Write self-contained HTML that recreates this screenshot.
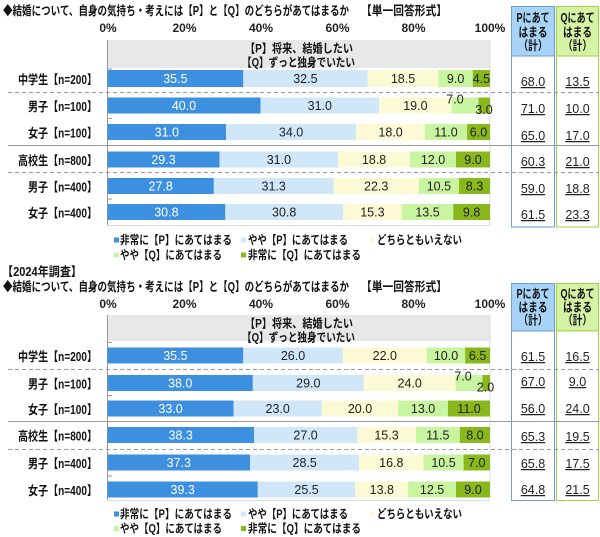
<!DOCTYPE html>
<html><head><meta charset="utf-8"><style>
body{margin:0;background:#fff}
svg{display:block;font-family:"Liberation Sans","Noto Sans CJK JP",sans-serif}
.b{font-weight:bold}
.n{font-size:12.5px;fill:#222}
.w{font-size:12.5px;fill:#fff}
.lab{font-size:12.5px;font-weight:bold;fill:#111}
.ax{font-size:12px;font-weight:bold;fill:#222}
.leg{font-size:12px;font-weight:bold;fill:#111}
.col{font-size:12.5px;fill:#222;text-decoration:underline}
.hd{font-size:12.5px;font-weight:bold;fill:#111}
</style></head><body>
<svg width="600" height="537" viewBox="0 0 600 537" xmlns="http://www.w3.org/2000/svg">
<!-- ===== CHART 1 ===== -->
<text x="3" y="15" class="b" font-size="12.5" fill="#111" textLength="346" lengthAdjust="spacingAndGlyphs">◆結婚について、自身の気持ち・考えには【P】と【Q】のどちらがあてはまるか</text>
<text x="361" y="15" class="b" font-size="12.5" fill="#111" textLength="86" lengthAdjust="spacingAndGlyphs">【単一回答形式】</text>
<g class="ax" text-anchor="middle">
<text x="108" y="32">0%</text><text x="184.5" y="32">20%</text><text x="261" y="32">40%</text><text x="337.5" y="32">60%</text><text x="413.5" y="32">80%</text><text x="490" y="32">100%</text>
</g>
<rect x="511.5" y="6.5" width="43" height="220.5" fill="#fff" stroke="#6a9fd0" stroke-width="1"/>
<rect x="511.5" y="6.5" width="43" height="49.5" fill="#a7d3f7" stroke="#6a9fd0" stroke-width="1"/>
<rect x="556.5" y="6.5" width="42" height="220.5" fill="#fff" stroke="#9fcf45" stroke-width="1"/>
<rect x="556.5" y="6.5" width="42" height="49.5" fill="#d5f2a5" stroke="#9fcf45" stroke-width="1"/>
<g class="hd" text-anchor="middle">
<text x="533" y="22" textLength="33" lengthAdjust="spacingAndGlyphs">Pにあて</text>
<text x="533" y="36.5" textLength="29" lengthAdjust="spacingAndGlyphs">はまる</text>
<text x="533" y="50" textLength="29" lengthAdjust="spacingAndGlyphs">（計）</text>
<text x="577.5" y="22" textLength="34" lengthAdjust="spacingAndGlyphs">Qにあて</text>
<text x="577.5" y="36.5" textLength="29" lengthAdjust="spacingAndGlyphs">はまる</text>
<text x="577.5" y="50" textLength="29" lengthAdjust="spacingAndGlyphs">（計）</text>
</g>
<rect x="107.5" y="40" width="382.5" height="28" fill="#e8e8e8"/>
<text x="245" y="52.5" class="b" font-size="12" fill="#111" textLength="108" lengthAdjust="spacingAndGlyphs">【P】将来、結婚したい</text>
<text x="242" y="66.5" class="b" font-size="12" fill="#111" textLength="113" lengthAdjust="spacingAndGlyphs">【Q】ずっと独身でいたい</text>
<line x1="107.5" y1="40" x2="107.5" y2="225" stroke="#999"/>
<line x1="490" y1="40" x2="490" y2="225" stroke="#ddd"/>
<line x1="107.5" y1="225.5" x2="490" y2="225.5" stroke="#ddd"/>
<g stroke="#999"><line x1="107.5" y1="69" x2="112" y2="69"/><line x1="107.5" y1="118.5" x2="112" y2="118.5"/><line x1="107.5" y1="199" x2="112" y2="199"/></g>
<line x1="8" y1="92.5" x2="599" y2="92.5" stroke="#999" stroke-dasharray="4,3"/>
<line x1="8" y1="145.5" x2="599" y2="145.5" stroke="#999"/>
<line x1="8" y1="172.5" x2="599" y2="172.5" stroke="#999" stroke-dasharray="4,3"/>
<g class="lab" text-anchor="end">
<text x="97" y="84" textLength="79" lengthAdjust="spacingAndGlyphs">中学生【n=200】</text>
<text x="97" y="111" textLength="69" lengthAdjust="spacingAndGlyphs">男子【n=100】</text>
<text x="97" y="137.5" textLength="69" lengthAdjust="spacingAndGlyphs">女子【n=100】</text>
<text x="97" y="165" textLength="79" lengthAdjust="spacingAndGlyphs">高校生【n=800】</text>
<text x="97" y="191.5" textLength="69" lengthAdjust="spacingAndGlyphs">男子【n=400】</text>
<text x="97" y="217.5" textLength="69" lengthAdjust="spacingAndGlyphs">女子【n=400】</text>
</g>
<g>
<rect x="107.5" y="70" width="135.79" height="17" fill="#3d8fe0"/><rect x="243.29" y="70" width="124.31" height="17" fill="#d0e7f9"/><rect x="367.6" y="70" width="70.76" height="17" fill="#fcfad4"/><rect x="438.36" y="70" width="34.43" height="17" fill="#c9f4a0"/><rect x="472.79" y="70" width="17.21" height="17" fill="#88b81c"/>
<rect x="107.5" y="97.5" width="153" height="16" fill="#3d8fe0"/><rect x="260.5" y="97.5" width="118.58" height="16" fill="#d0e7f9"/><rect x="379.08" y="97.5" width="72.67" height="16" fill="#fcfad4"/><rect x="451.75" y="97.5" width="26.78" height="16" fill="#c9f4a0"/><rect x="478.53" y="97.5" width="11.47" height="16" fill="#88b81c"/>
<rect x="107.5" y="124" width="118.58" height="16" fill="#3d8fe0"/><rect x="226.08" y="124" width="130.05" height="16" fill="#d0e7f9"/><rect x="356.13" y="124" width="68.85" height="16" fill="#fcfad4"/><rect x="424.98" y="124" width="42.07" height="16" fill="#c9f4a0"/><rect x="467.05" y="124" width="22.95" height="16" fill="#88b81c"/>
<rect x="107.5" y="151.5" width="112.07" height="16" fill="#3d8fe0"/><rect x="219.57" y="151.5" width="118.58" height="16" fill="#d0e7f9"/><rect x="338.15" y="151.5" width="71.91" height="16" fill="#fcfad4"/><rect x="410.06" y="151.5" width="45.9" height="16" fill="#c9f4a0"/><rect x="455.96" y="151.5" width="34.04" height="16" fill="#88b81c"/>
<rect x="107.5" y="178" width="106.34" height="16" fill="#3d8fe0"/><rect x="213.84" y="178" width="119.72" height="16" fill="#d0e7f9"/><rect x="333.56" y="178" width="85.3" height="16" fill="#fcfad4"/><rect x="418.86" y="178" width="40.16" height="16" fill="#c9f4a0"/><rect x="459.02" y="178" width="30.98" height="16" fill="#88b81c"/>
<rect x="107.5" y="204" width="117.81" height="16" fill="#3d8fe0"/><rect x="225.31" y="204" width="117.81" height="16" fill="#d0e7f9"/><rect x="343.12" y="204" width="58.52" height="16" fill="#fcfad4"/><rect x="401.64" y="204" width="51.64" height="16" fill="#c9f4a0"/><rect x="453.28" y="204" width="36.72" height="16" fill="#88b81c"/>
</g>
<g text-anchor="middle">
<text class="w" x="175.4" y="83">35.5</text><text class="n" x="305.4" y="83">32.5</text><text class="n" x="403" y="83">18.5</text><text class="n" x="455.6" y="83">9.0</text><text class="n" x="481.4" y="83">4.5</text>
<text class="w" x="184" y="110">40.0</text><text class="n" x="319.8" y="110">31.0</text><text class="n" x="415.4" y="110">19.0</text><text class="n" x="455" y="103.5">7.0</text><text class="n" x="484" y="114">3.0</text>
<text class="w" x="166.8" y="136.5">31.0</text><text class="n" x="291.1" y="136.5">34.0</text><text class="n" x="390.6" y="136.5">18.0</text><text class="n" x="446" y="136.5">11.0</text><text class="n" x="478.5" y="136.5">6.0</text>
<text class="w" x="163.5" y="164">29.3</text><text class="n" x="278.9" y="164">31.0</text><text class="n" x="374.1" y="164">18.8</text><text class="n" x="433" y="164">12.0</text><text class="n" x="473" y="164">9.0</text>
<text class="w" x="160.7" y="190.5">27.8</text><text class="n" x="273.7" y="190.5">31.3</text><text class="n" x="376.2" y="190.5">22.3</text><text class="n" x="438.9" y="190.5">10.5</text><text class="n" x="474.5" y="190.5">8.3</text>
<text class="w" x="166.4" y="216.5">30.8</text><text class="n" x="284.2" y="216.5">30.8</text><text class="n" x="372.4" y="216.5">15.3</text><text class="n" x="427.5" y="216.5">13.5</text><text class="n" x="471.6" y="216.5">9.8</text>
</g>
<g class="col" text-anchor="middle">
<text x="533" y="86">68.0</text><text x="577.5" y="86">13.5</text>
<text x="533" y="113">71.0</text><text x="577.5" y="113">10.0</text>
<text x="533" y="140">65.0</text><text x="577.5" y="140">17.0</text>
<text x="533" y="166">60.3</text><text x="577.5" y="166">21.0</text>
<text x="533" y="193">59.0</text><text x="577.5" y="193">18.8</text>
<text x="533" y="219">61.5</text><text x="577.5" y="219">23.3</text>
</g>
<rect x="114" y="237.5" width="5" height="5" fill="#3d8fe0"/><text class="leg" x="120" y="244" textLength="112" lengthAdjust="spacingAndGlyphs">非常に【P】にあてはまる</text>
<rect x="241" y="237.5" width="5" height="5" fill="#d0e7f9"/><text class="leg" x="248" y="244" textLength="100" lengthAdjust="spacingAndGlyphs">やや【P】にあてはまる</text>
<rect x="369" y="237.5" width="5" height="5" fill="#fcfad4"/><text class="leg" x="377" y="244" textLength="85" lengthAdjust="spacingAndGlyphs">どちらともいえない</text>
<rect x="114" y="252.5" width="5" height="5" fill="#c9f4a0"/><text class="leg" x="120" y="259" textLength="102" lengthAdjust="spacingAndGlyphs">やや【Q】にあてはまる</text>
<rect x="241" y="252.5" width="5" height="5" fill="#88b81c"/><text class="leg" x="248" y="259" textLength="113" lengthAdjust="spacingAndGlyphs">非常に【Q】にあてはまる</text>

<!-- ===== CHART 2 ===== -->
<text x="2" y="276" class="b" font-size="12.5" fill="#111" textLength="80" lengthAdjust="spacingAndGlyphs">【2024年調査】</text>
<text x="3" y="291" class="b" font-size="12.5" fill="#111" textLength="346" lengthAdjust="spacingAndGlyphs">◆結婚について、自身の気持ち・考えには【P】と【Q】のどちらがあてはまるか</text>
<text x="361" y="291" class="b" font-size="12.5" fill="#111" textLength="86" lengthAdjust="spacingAndGlyphs">【単一回答形式】</text>
<g class="ax" text-anchor="middle">
<text x="108" y="308">0%</text><text x="184.5" y="308">20%</text><text x="261" y="308">40%</text><text x="337.5" y="308">60%</text><text x="413.5" y="308">80%</text><text x="490" y="308">100%</text>
</g>
<rect x="511.5" y="283.5" width="43" height="217" fill="#fff" stroke="#6a9fd0" stroke-width="1"/>
<rect x="511.5" y="283.5" width="43" height="47.5" fill="#a7d3f7" stroke="#6a9fd0" stroke-width="1"/>
<rect x="556.5" y="283.5" width="42" height="217" fill="#fff" stroke="#9fcf45" stroke-width="1"/>
<rect x="556.5" y="283.5" width="42" height="47.5" fill="#d5f2a5" stroke="#9fcf45" stroke-width="1"/>
<g class="hd" text-anchor="middle">
<text x="533" y="298" textLength="33" lengthAdjust="spacingAndGlyphs">Pにあて</text>
<text x="533" y="311.5" textLength="29" lengthAdjust="spacingAndGlyphs">はまる</text>
<text x="533" y="324.5" textLength="29" lengthAdjust="spacingAndGlyphs">（計）</text>
<text x="577.5" y="298" textLength="34" lengthAdjust="spacingAndGlyphs">Qにあて</text>
<text x="577.5" y="311.5" textLength="29" lengthAdjust="spacingAndGlyphs">はまる</text>
<text x="577.5" y="324.5" textLength="29" lengthAdjust="spacingAndGlyphs">（計）</text>
</g>
<rect x="107.5" y="315" width="382.5" height="26" fill="#e8e8e8"/>
<text x="245" y="327.5" class="b" font-size="12" fill="#111" textLength="108" lengthAdjust="spacingAndGlyphs">【P】将来、結婚したい</text>
<text x="242" y="341.5" class="b" font-size="12" fill="#111" textLength="113" lengthAdjust="spacingAndGlyphs">【Q】ずっと独身でいたい</text>
<line x1="107.5" y1="315" x2="107.5" y2="500" stroke="#999"/>
<line x1="490" y1="315" x2="490" y2="500" stroke="#ddd"/>
<line x1="107.5" y1="500.5" x2="490" y2="500.5" stroke="#ddd"/>
<g stroke="#999"><line x1="107.5" y1="342.5" x2="112" y2="342.5"/><line x1="107.5" y1="395.5" x2="112" y2="395.5"/><line x1="107.5" y1="476" x2="112" y2="476"/></g>
<line x1="8" y1="369.5" x2="599" y2="369.5" stroke="#999" stroke-dasharray="4,3"/>
<line x1="8" y1="421.5" x2="599" y2="421.5" stroke="#999"/>
<line x1="8" y1="449.5" x2="599" y2="449.5" stroke="#999" stroke-dasharray="4,3"/>
<g class="lab" text-anchor="end">
<text x="97" y="361" textLength="79" lengthAdjust="spacingAndGlyphs">中学生【n=200】</text>
<text x="97" y="388.5" textLength="69" lengthAdjust="spacingAndGlyphs">男子【n=100】</text>
<text x="97" y="414" textLength="69" lengthAdjust="spacingAndGlyphs">女子【n=100】</text>
<text x="97" y="440.5" textLength="79" lengthAdjust="spacingAndGlyphs">高校生【n=800】</text>
<text x="97" y="468" textLength="69" lengthAdjust="spacingAndGlyphs">男子【n=400】</text>
<text x="97" y="495" textLength="69" lengthAdjust="spacingAndGlyphs">女子【n=400】</text>
</g>
<g>
<rect x="107.5" y="347.5" width="135.79" height="16" fill="#3d8fe0"/><rect x="243.29" y="347.5" width="99.45" height="16" fill="#d0e7f9"/><rect x="342.74" y="347.5" width="84.15" height="16" fill="#fcfad4"/><rect x="426.89" y="347.5" width="38.25" height="16" fill="#c9f4a0"/><rect x="465.14" y="347.5" width="24.86" height="16" fill="#88b81c"/>
<rect x="107.5" y="375" width="145.35" height="16" fill="#3d8fe0"/><rect x="252.85" y="375" width="110.93" height="16" fill="#d0e7f9"/><rect x="363.78" y="375" width="91.8" height="16" fill="#fcfad4"/><rect x="455.58" y="375" width="26.77" height="16" fill="#c9f4a0"/><rect x="482.35" y="375" width="7.65" height="16" fill="#88b81c"/>
<rect x="107.5" y="400.5" width="126.23" height="16" fill="#3d8fe0"/><rect x="233.73" y="400.5" width="87.97" height="16" fill="#d0e7f9"/><rect x="321.7" y="400.5" width="76.5" height="16" fill="#fcfad4"/><rect x="398.2" y="400.5" width="49.73" height="16" fill="#c9f4a0"/><rect x="447.93" y="400.5" width="42.07" height="16" fill="#88b81c"/>
<rect x="107.5" y="427" width="146.5" height="16" fill="#3d8fe0"/><rect x="254" y="427" width="103.27" height="16" fill="#d0e7f9"/><rect x="357.27" y="427" width="58.53" height="16" fill="#fcfad4"/><rect x="415.8" y="427" width="43.98" height="16" fill="#c9f4a0"/><rect x="459.78" y="427" width="30.22" height="16" fill="#88b81c"/>
<rect x="107.5" y="454.5" width="142.67" height="16" fill="#3d8fe0"/><rect x="250.17" y="454.5" width="109.01" height="16" fill="#d0e7f9"/><rect x="359.18" y="454.5" width="64.26" height="16" fill="#fcfad4"/><rect x="423.44" y="454.5" width="40.16" height="16" fill="#c9f4a0"/><rect x="463.6" y="454.5" width="26.4" height="16" fill="#88b81c"/>
<rect x="107.5" y="481.5" width="150.32" height="16" fill="#3d8fe0"/><rect x="257.82" y="481.5" width="97.54" height="16" fill="#d0e7f9"/><rect x="355.36" y="481.5" width="52.79" height="16" fill="#fcfad4"/><rect x="408.15" y="481.5" width="47.81" height="16" fill="#c9f4a0"/><rect x="455.96" y="481.5" width="34.04" height="16" fill="#88b81c"/>
</g>
<g text-anchor="middle">
<text class="w" x="175.4" y="360">35.5</text><text class="n" x="293" y="360">26.0</text><text class="n" x="384.8" y="360">22.0</text><text class="n" x="446" y="360">10.0</text><text class="n" x="477.6" y="360">6.5</text>
<text class="w" x="180.2" y="387.5">38.0</text><text class="n" x="308.3" y="387.5">29.0</text><text class="n" x="409.7" y="387.5">24.0</text><text class="n" x="463" y="380.5">7.0</text><text class="n" x="485.5" y="391.5">2.0</text>
<text class="w" x="170.6" y="413">33.0</text><text class="n" x="277.7" y="413">23.0</text><text class="n" x="360" y="413">20.0</text><text class="n" x="423.1" y="413">13.0</text><text class="n" x="469" y="413">11.0</text>
<text class="w" x="180.7" y="439.5">38.3</text><text class="n" x="305.6" y="439.5">27.0</text><text class="n" x="386.5" y="439.5">15.3</text><text class="n" x="437.8" y="439.5">11.5</text><text class="n" x="474.9" y="439.5">8.0</text>
<text class="w" x="178.8" y="467">37.3</text><text class="n" x="304.7" y="467">28.5</text><text class="n" x="391.3" y="467">16.8</text><text class="n" x="443.5" y="467">10.5</text><text class="n" x="476.8" y="467">7.0</text>
<text class="w" x="182.7" y="494">39.3</text><text class="n" x="306.6" y="494">25.5</text><text class="n" x="381.8" y="494">13.8</text><text class="n" x="432.1" y="494">12.5</text><text class="n" x="473" y="494">9.0</text>
</g>
<g class="col" text-anchor="middle">
<text x="533" y="361">61.5</text><text x="577.5" y="361">16.5</text>
<text x="533" y="386">67.0</text><text x="577.5" y="386">9.0</text>
<text x="533" y="413">56.0</text><text x="577.5" y="413">24.0</text>
<text x="533" y="441">65.3</text><text x="577.5" y="441">19.5</text>
<text x="533" y="468">65.8</text><text x="577.5" y="468">17.5</text>
<text x="533" y="494">64.8</text><text x="577.5" y="494">21.5</text>
</g>
<rect x="114" y="511.5" width="5" height="5" fill="#3d8fe0"/><text class="leg" x="120" y="518" textLength="112" lengthAdjust="spacingAndGlyphs">非常に【P】にあてはまる</text>
<rect x="241" y="511.5" width="5" height="5" fill="#d0e7f9"/><text class="leg" x="248" y="518" textLength="100" lengthAdjust="spacingAndGlyphs">やや【P】にあてはまる</text>
<rect x="369" y="511.5" width="5" height="5" fill="#fcfad4"/><text class="leg" x="377" y="518" textLength="85" lengthAdjust="spacingAndGlyphs">どちらともいえない</text>
<rect x="114" y="526" width="5" height="5" fill="#c9f4a0"/><text class="leg" x="120" y="532.5" textLength="102" lengthAdjust="spacingAndGlyphs">やや【Q】にあてはまる</text>
<rect x="241" y="526" width="5" height="5" fill="#88b81c"/><text class="leg" x="248" y="532.5" textLength="113" lengthAdjust="spacingAndGlyphs">非常に【Q】にあてはまる</text>
</svg>
</body></html>
